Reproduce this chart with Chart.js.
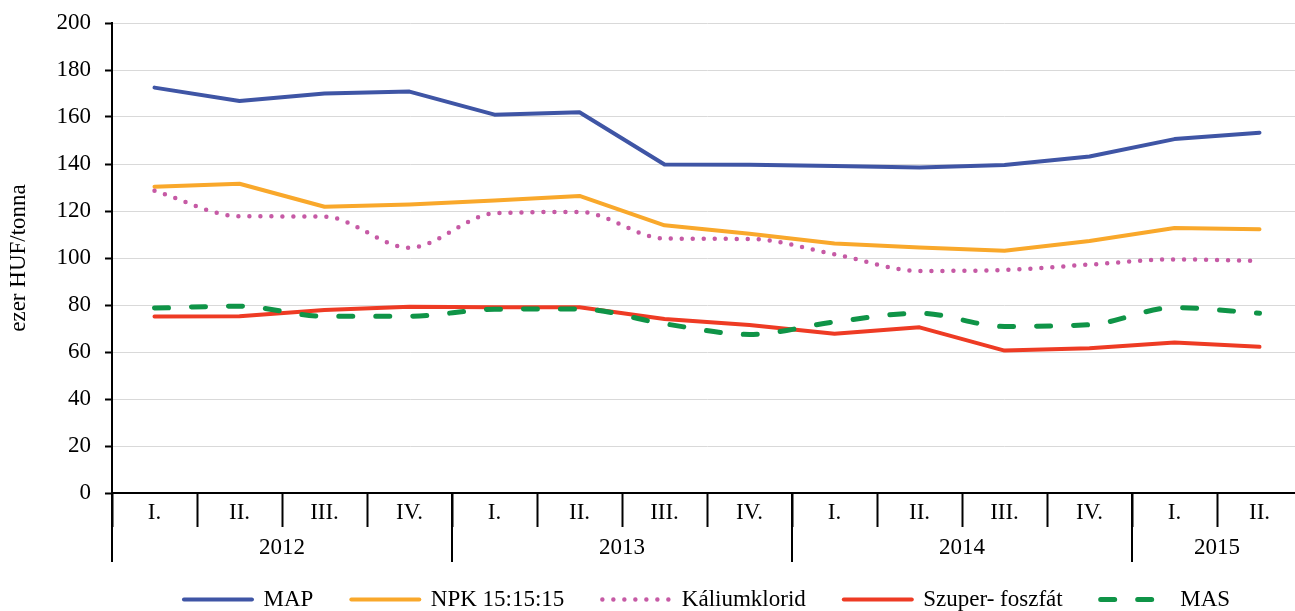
<!DOCTYPE html>
<html lang="hu">
<head>
<meta charset="utf-8">
<title>Műtrágyaárak</title>
<script src="https://cdn.jsdelivr.net/npm/chart.js@4/dist/chart.umd.min.js"></script>
<style>
  html, body { margin: 0; padding: 0; background: #fff; overflow: hidden; }
  #chartArak { display: block; }
</style>
</head>
<body>
<canvas id="chartArak" width="1320" height="611"></canvas>
<script>
// Negyedévek és a hozzájuk tartozó évek
const negyedevek = ["I.", "II.", "III.", "IV.", "I.", "II.", "III.", "IV.", "I.", "II.", "III.", "IV.", "I.", "II."];
const evek = ["2012", "2012", "2012", "2012", "2013", "2013", "2013", "2013", "2014", "2014", "2014", "2014", "2015", "2015"];

// Árak (ezer HUF/tonna), leolvasva az ábráról
const map = [172.5, 166.8, 170.0, 170.8, 161.0, 162.0, 139.8, 139.7, 139.2, 138.5, 139.6, 143.2, 150.6, 153.3];
const npk = [130.3, 131.6, 121.8, 122.8, 124.5, 126.4, 113.9, 110.3, 106.2, 104.5, 103.1, 107.2, 112.8, 112.2];
const kaliumklorid = [128.6, 117.8, 117.6, 104.4, 119.0, 119.6, 108.3, 108.1, 101.6, 94.5, 94.9, 97.2, 99.4, 98.7];
const szuperfoszfat = [75.1, 75.2, 77.9, 79.3, 79.0, 79.0, 74.0, 71.5, 67.8, 70.5, 60.6, 61.6, 64.0, 62.2];
const mas = [78.7, 79.5, 75.2, 75.2, 78.2, 78.3, 72.0, 67.5, 72.8, 76.5, 70.9, 71.6, 78.9, 76.5];

// Tengely beállítások
const yMin = 0;
const yMax = 200;
const yLepes = 20;

const BETU = '"Liberation Serif", "Times New Roman", serif';
Chart.defaults.font.family = BETU;
Chart.defaults.font.size = 23;
Chart.defaults.color = "#000";

// Az évek csoportosítása az x tengely alatt (második szint)
const evCsoportok = {
  id: "evCsoportok",
  afterDraw(chart) {
    const { ctx, chartArea } = chart;
    const x = chart.scales.x;
    const fel = (x.getPixelForValue(1) - x.getPixelForValue(0)) / 2;
    const alja = chartArea.bottom;
    ctx.save();
    ctx.strokeStyle = "#000";
    ctx.lineWidth = 2;
    ctx.fillStyle = "#000";
    ctx.font = "23px " + BETU;
    ctx.textAlign = "center";
    ctx.textBaseline = "middle";
    let kezdo = 0;
    for (let i = 1; i <= evek.length; i++) {
      if (i === evek.length || evek[i] !== evek[kezdo]) {
        const bal = x.getPixelForValue(kezdo) - fel;
        const jobb = x.getPixelForValue(i - 1) + fel;
        ctx.beginPath();
        ctx.moveTo(bal, alja);
        ctx.lineTo(bal, alja + 69);
        ctx.stroke();
        ctx.fillText(evek[kezdo], (bal + jobb) / 2, alja + 55);
        kezdo = i;
      }
    }
    ctx.restore();
  }
};

function vonal(cimke, adatok, szin, extra) {
  return Object.assign({
    label: cimke,
    data: adatok,
    borderColor: szin,
    backgroundColor: szin,
    borderWidth: 4,
    borderDash: [],
    pointRadius: 0,
    pointHoverRadius: 0,
    tension: 0,
    fill: false,
    borderCapStyle: "round",
    borderJoinStyle: "round"
  }, extra || {});
}

// Jelmagyarázat: a vonal mintája (szaggatás) is látszódjon
function jelmagyarazat(chart) {
  const elemek = Chart.defaults.plugins.legend.labels.generateLabels(chart);
  return elemek.map((elem) => {
    const ds = chart.data.datasets[elem.datasetIndex];
    elem.lineDash = ds.borderDash;
    elem.lineCap = "round";
    elem.lineWidth = ds.borderWidth;
    elem.strokeStyle = ds.borderColor;
    elem.fillStyle = ds.borderColor;
    elem.pointStyle = "line";
    return elem;
  });
}

const ctxArak = document.getElementById("chartArak").getContext("2d");
const chartArak = new Chart(ctxArak, {
  type: "line",
  data: {
    labels: negyedevek,
    datasets: [
      vonal("MAP", map, "#3F55A5", { order: 4 }),
      vonal("NPK 15:15:15", npk, "#F9A82B", { order: 3 }),
      vonal("Káliumklorid", kaliumklorid, "#C65AA5", { order: 2, borderDash: [0, 11], borderWidth: 4.5, cubicInterpolationMode: "monotone" }),
      vonal("Szuper- foszfát", szuperfoszfat, "#EE3B24", { order: 1 }),
      vonal("MAS", mas, "#0F9447", { order: 0, borderDash: [14, 23], borderWidth: 5, cubicInterpolationMode: "monotone" })
    ]
  },
  options: {
    responsive: false,
    animation: false,
    layout: {
      padding: { top: 23, right: 18, bottom: -10, left: 0 }
    },
    plugins: {
      legend: {
        position: "bottom",
        fullSize: false,
        labels: {
          usePointStyle: true,
          pointStyle: "line",
          pointStyleWidth: 68,
          padding: 38,
          color: "#000",
          font: { size: 23 },
          generateLabels: jelmagyarazat,
          sort: (a, b) => a.datasetIndex - b.datasetIndex
        }
      },
      tooltip: { enabled: false }
    },
    scales: {
      x: {
        type: "category",
        offset: true,
        grid: {
          offset: true,
          drawOnChartArea: false,
          tickLength: 34,
          tickColor: "#000",
          tickWidth: 2
        },
        border: { color: "#000", width: 2 },
        ticks: {
          autoSkip: false,
          maxRotation: 0,
          padding: -28,
          color: "#000"
        },
        afterFit(scale) {
          scale.height = 57;
        }
      },
      y: {
        min: yMin,
        max: yMax,
        ticks: {
          stepSize: yLepes,
          padding: 14,
          color: "#000",
          font: { size: 23, lineHeight: 0.6 }
        },
        grid: {
          color: "#d9d9d9",
          lineWidth: 1,
          tickColor: "#000",
          tickLength: 7,
          tickWidth: 2
        },
        border: { color: "#000", width: 2 },
        title: {
          display: true,
          text: "ezer HUF/tonna",
          color: "#000",
          font: { size: 23 },
          padding: { top: 5, bottom: 0 }
        },
        afterFit(scale) {
          scale.width = 112;
        }
      }
    }
  },
  plugins: [evCsoportok]
});
</script>
</body>
</html>
